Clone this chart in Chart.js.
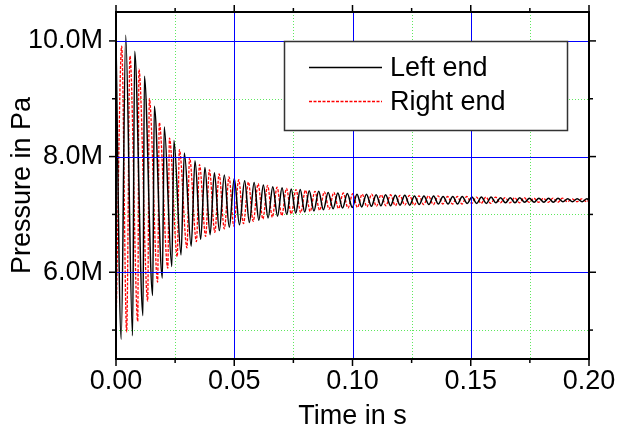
<!DOCTYPE html>
<html><head><meta charset="utf-8">
<script src="https://cdn.jsdelivr.net/npm/chart.js@4/dist/chart.umd.min.js"></script>
<style>html,body{margin:0;padding:0;background:#fff;}</style>
</head><body>
<canvas id="c" width="618" height="432"></canvas>
<script>
// ---- data (time in s, pressure in "M" = MPa) ----
const seriesNames = ['Left end', 'Right end'];
const xMajorTicks = [0, 0.05, 0.10, 0.15, 0.20];
const xMinorTicks = [0.025, 0.075, 0.125, 0.175];
const yMajorTicks = [6, 8, 10];
const yMinorTicks = [5, 7, 9];

const leftStart = [0, 10.0];
const leftEnd = [0.2, 7.245];
const leftPeakT = [0.0041,0.0079,0.0120,0.0162,0.0204,0.0245,0.0289,0.0334,0.0376,0.0416,0.0458,0.0500,0.0544,0.0584,0.0623,0.0663,0.0702,0.0741,0.0779,0.0817,0.0857,0.0897,0.0938,0.0978,0.1019,0.1059,0.1100,0.1140,0.1181,0.1221,0.1262,0.1302,0.1343,0.1383,0.1424,0.1464,0.1505,0.1545,0.1586,0.1626,0.1667,0.1707,0.1748,0.1788,0.1829,0.1869,0.1910,0.1950,0.1991];
const leftPeakV = [10.10,9.82,9.39,8.87,8.51,8.28,8.06,7.93,7.81,7.72,7.68,7.62,7.58,7.55,7.51,7.48,7.46,7.44,7.43,7.41,7.40,7.38,7.37,7.36,7.35,7.35,7.34,7.34,7.33,7.33,7.32,7.32,7.32,7.31,7.31,7.31,7.30,7.30,7.30,7.29,7.29,7.29,7.28,7.28,7.28,7.28,7.27,7.27,7.27];
const leftTroughT = [0.0022,0.0070,0.0114,0.0155,0.0196,0.0236,0.0275,0.0318,0.0358,0.0398,0.0437,0.0479,0.0522,0.0564,0.0604,0.0643,0.0683,0.0722,0.0760,0.0798,0.0837,0.0877,0.0918,0.0958,0.0999,0.1039,0.1080,0.1120,0.1161,0.1201,0.1242,0.1282,0.1323,0.1363,0.1404,0.1444,0.1485,0.1525,0.1566,0.1606,0.1647,0.1687,0.1728,0.1768,0.1809,0.1849,0.1890,0.1930,0.1971];
const leftTroughV = [4.84,4.90,5.25,5.60,5.90,6.10,6.30,6.45,6.57,6.65,6.72,6.78,6.82,6.86,6.90,6.94,6.97,7.00,7.02,7.04,7.06,7.08,7.10,7.11,7.12,7.13,7.14,7.15,7.15,7.16,7.16,7.17,7.17,7.18,7.18,7.18,7.19,7.19,7.19,7.20,7.20,7.20,7.21,7.21,7.21,7.21,7.22,7.22,7.22];

const rightStart = [0, 5.0];
const rightEnd = [0.2, 7.245];
const rightPeakT = [0.0024,0.0059,0.0097,0.0141,0.0183,0.0226,0.0268,0.0311,0.0353,0.0395,0.0436,0.0478,0.0519,0.0560,0.0601,0.0641,0.0681,0.0721,0.0761,0.0801,0.0841,0.0881,0.0921,0.0961,0.1001,0.1041,0.1081,0.1121,0.1161,0.1201,0.1241,0.1281,0.1321,0.1362,0.1402,0.1443,0.1483,0.1524,0.1564,0.1605,0.1645,0.1686,0.1726,0.1767,0.1807,0.1848,0.1888,0.1929,0.1969];
const rightPeakV = [9.91,9.74,9.51,9.00,8.59,8.32,8.12,7.98,7.86,7.77,7.70,7.65,7.60,7.56,7.53,7.50,7.47,7.45,7.43,7.42,7.40,7.39,7.38,7.37,7.36,7.35,7.35,7.34,7.34,7.33,7.33,7.32,7.32,7.32,7.31,7.31,7.31,7.30,7.30,7.30,7.29,7.29,7.29,7.28,7.28,7.28,7.28,7.27,7.27];
const rightTroughT = [0.0045,0.0092,0.0134,0.0176,0.0219,0.0259,0.0300,0.0340,0.0379,0.0418,0.0458,0.0498,0.0539,0.0580,0.0621,0.0661,0.0701,0.0741,0.0781,0.0821,0.0861,0.0901,0.0941,0.0981,0.1021,0.1061,0.1101,0.1141,0.1181,0.1221,0.1261,0.1301,0.1342,0.1382,0.1423,0.1463,0.1504,0.1544,0.1585,0.1625,0.1666,0.1706,0.1747,0.1787,0.1828,0.1868,0.1909,0.1949,0.1990];
const rightTroughV = [4.97,5.15,5.50,5.83,6.07,6.27,6.42,6.53,6.62,6.69,6.75,6.80,6.84,6.88,6.92,6.95,6.98,7.01,7.03,7.05,7.07,7.09,7.10,7.11,7.12,7.13,7.14,7.15,7.15,7.16,7.16,7.17,7.17,7.18,7.18,7.18,7.19,7.19,7.19,7.20,7.20,7.20,7.21,7.21,7.21,7.21,7.22,7.22,7.22];

function buildSeries(start, pT, pV, tT, tV, end) {
  const pts = [{x: start[0], y: start[1]}];
  pT.forEach((t, i) => pts.push({x: t, y: pV[i]}));
  tT.forEach((t, i) => pts.push({x: t, y: tV[i]}));
  pts.push({x: end[0], y: end[1]});
  pts.sort((a, b) => a.x - b.x);
  return pts;
}

const FONT = '"Liberation Sans", Arial, Helvetica, sans-serif';
const FS = 27;

const framePlugin = {
  id: 'frame',
  beforeDatasetsDraw(chart) {
    const {ctx, chartArea: a, scales: {x, y}} = chart;
    ctx.save();
    ctx.lineWidth = 1;
    ctx.strokeStyle = '#5ee85e';
    ctx.setLineDash([1, 2]);
    xMinorTicks.forEach(v => {
      const p = Math.round(x.getPixelForValue(v)) + 0.5;
      ctx.beginPath(); ctx.moveTo(p, a.top); ctx.lineTo(p, a.bottom); ctx.stroke();
    });
    yMinorTicks.forEach(v => {
      const p = Math.round(y.getPixelForValue(v)) + 0.5;
      ctx.beginPath(); ctx.moveTo(a.left, p); ctx.lineTo(a.right, p); ctx.stroke();
    });
    ctx.restore();
  },
  afterDatasetsDraw(chart) {
    const {ctx, chartArea: a, scales: {x, y}} = chart;
    ctx.save();
    ctx.setLineDash([]);
    ctx.lineWidth = 1;
    ctx.strokeStyle = 'rgb(0,0,255)';
    xMajorTicks.forEach(v => {
      const p = Math.round(x.getPixelForValue(v)) + 0.5;
      ctx.beginPath(); ctx.moveTo(p, a.top); ctx.lineTo(p, a.bottom); ctx.stroke();
    });
    yMajorTicks.forEach(v => {
      const p = Math.round(y.getPixelForValue(v)) + 0.5;
      ctx.beginPath(); ctx.moveTo(a.left, p); ctx.lineTo(a.right, p); ctx.stroke();
    });
    ctx.strokeStyle = '#000';
    ctx.lineWidth = 2;
    ctx.strokeRect(a.left, a.top, a.right - a.left, a.bottom - a.top);
    ctx.lineWidth = 1.5;
    const tick = (x1, y1, x2, y2) => { ctx.beginPath(); ctx.moveTo(x1, y1); ctx.lineTo(x2, y2); ctx.stroke(); };
    xMajorTicks.forEach(v => { const p = x.getPixelForValue(v); tick(p, a.bottom, p, a.bottom + 7); tick(p, a.top, p, a.top - 7); });
    xMinorTicks.forEach(v => { const p = x.getPixelForValue(v); tick(p, a.bottom, p, a.bottom + 4); tick(p, a.top, p, a.top - 4); });
    yMajorTicks.forEach(v => { const p = y.getPixelForValue(v); tick(a.left, p, a.left - 7, p); tick(a.right, p, a.right + 7, p); });
    yMinorTicks.forEach(v => { const p = y.getPixelForValue(v); tick(a.left, p, a.left - 4, p); tick(a.right, p, a.right + 4, p); });
    ctx.restore();
  },
  afterDraw(chart) {
    const {ctx} = chart;
    ctx.save();
    const bx = 284.5, by = 41.5, bw = 283, bh = 89;
    ctx.fillStyle = '#fff';
    ctx.fillRect(bx, by, bw, bh);
    ctx.strokeStyle = '#333';
    ctx.lineWidth = 1.5;
    ctx.strokeRect(bx, by, bw, bh);
    const rows = [67.5, 101.5];
    chart.data.datasets.forEach((ds, i) => {
      ctx.strokeStyle = ds.borderColor;
      ctx.lineWidth = ds.borderWidth;
      ctx.setLineDash(ds.borderDash || []);
      ctx.beginPath(); ctx.moveTo(309, rows[i]); ctx.lineTo(382, rows[i]); ctx.stroke();
      ctx.setLineDash([]);
      ctx.fillStyle = '#000';
      ctx.font = FS + 'px ' + FONT;
      ctx.textBaseline = 'middle';
      ctx.fillText(ds.label, 390, rows[i] + 1);
    });
    ctx.restore();
  }
};

new Chart(document.getElementById('c'), {
  type: 'line',
  data: {
    datasets: [
      {label: seriesNames[0], data: buildSeries(leftStart, leftPeakT, leftPeakV, leftTroughT, leftTroughV, leftEnd),
       borderColor: '#000000', borderWidth: 1.5, pointRadius: 0, cubicInterpolationMode: 'monotone', fill: false},
      {label: seriesNames[1], data: buildSeries(rightStart, rightPeakT, rightPeakV, rightTroughT, rightTroughV, rightEnd),
       borderColor: '#ff0000', borderWidth: 1.3, borderDash: [3, 1.5], pointRadius: 0, cubicInterpolationMode: 'monotone', fill: false}
    ]
  },
  options: {
    responsive: false,
    animation: false,
    devicePixelRatio: 1,
    layout: {padding: {top: 12, right: 29, left: 0, bottom: 0}},
    plugins: {legend: {display: false}, tooltip: {enabled: false}},
    scales: {
      x: {
        type: 'linear', min: 0, max: 0.2,
        afterBuildTicks: s => { s.ticks = xMajorTicks.map(v => ({value: v})); },
        afterFit: s => { s.height = 73; s.paddingLeft = 0; s.paddingRight = 0; },
        grid: {display: false, drawTicks: false},
        border: {display: false},
        ticks: {autoSkip: false, maxRotation: 0, padding: 6, color: '#000',
                font: {family: FONT, size: FS}, callback: v => Number(v).toFixed(2)},
        title: {display: true, text: 'Time in s', color: '#000', font: {family: FONT, size: FS}, padding: {top: 0, bottom: -1}}
      },
      y: {
        type: 'linear', min: 4.5, max: 10.5,
        afterBuildTicks: s => { s.ticks = yMajorTicks.map(v => ({value: v})); },
        afterFit: s => { s.width = 116; s.paddingTop = 0; s.paddingBottom = 0; },
        grid: {display: false, drawTicks: false},
        border: {display: false},
        ticks: {autoSkip: false, padding: 13, color: '#000',
                font: {family: FONT, size: FS}, callback: v => Number(v).toFixed(1) + 'M'},
        title: {display: true, text: 'Pressure in Pa', color: '#000', font: {family: FONT, size: FS}, padding: {top: 6, bottom: 0}}
      }
    }
  },
  plugins: [framePlugin]
});
</script>
</body></html>
